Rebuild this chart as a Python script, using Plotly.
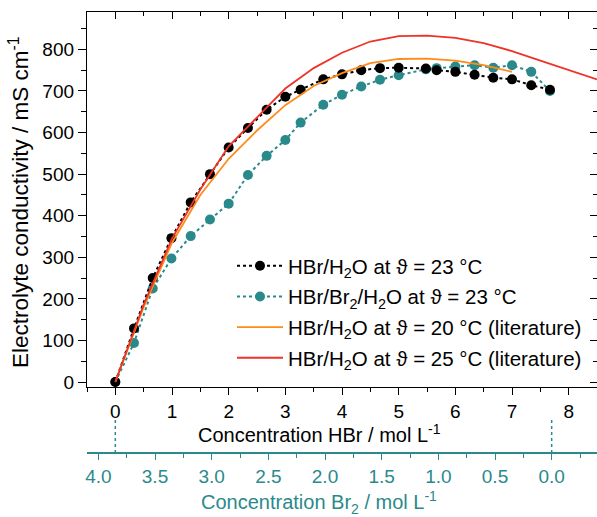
import plotly.graph_objects as go

# ---------------- data ----------------
hbr_conc = [0, 0.33, 0.66, 0.99, 1.33, 1.67, 2.0, 2.34, 2.67, 3.0, 3.27, 3.67, 4.0,
            4.34, 4.67, 5.0, 5.48, 5.67, 6.0, 6.34, 6.67, 7.0, 7.34, 7.67]
cond_hbr_23 = [0, 129, 250, 346, 432, 500, 564, 611, 655, 686, 703, 728, 740,
               750, 755, 756, 754, 750, 746, 739, 732, 728, 714, 703]
cond_hbr_br2_23 = [0, 94, 225, 297, 351, 391, 429, 498, 544, 582, 624, 667, 691,
                   711, 727, 738, 752, 755, 759, 762, 756, 762, 746, 700]

lit_conc_20 = [0, 0.5, 1.0, 1.5, 2.0, 2.5, 3.0, 3.5, 4.0, 4.5, 5.0, 5.5, 6.0, 6.5, 7.0]
lit_cond_20 = [0, 180, 335, 450, 537, 605, 666, 712, 743, 767, 777, 778, 773, 762, 746]

lit_conc_25 = [0, 0.5, 1.0, 1.5, 2.0, 2.5, 3.0, 3.5, 4.0, 4.5, 5.0, 5.5, 6.0, 6.5,
               7.0, 7.5, 8.0, 8.5]
lit_cond_25 = [0, 186, 345, 463, 567, 637, 706, 755, 792, 819, 832, 833, 828, 815,
               796, 773, 750, 728]

# HBr concentration at which Br2 concentration reaches zero (Br2 = (7.7 - HBr)/2)
hbr_full = 7.7
br2_ticks = [4.0, 3.5, 3.0, 2.5, 2.0, 1.5, 1.0, 0.5, 0.0]

names = ["HBr/H<sub>2</sub>O at \u03d1 = 23 \u00b0C",
         "HBr/Br<sub>2</sub>/H<sub>2</sub>O at \u03d1 = 23 \u00b0C",
         "HBr/H<sub>2</sub>O at \u03d1 = 20 \u00b0C (literature)",
         "HBr/H<sub>2</sub>O at \u03d1 = 25 \u00b0C (literature)"]

# ---------------- style ----------------
FONT = "Liberation Sans, Arial, sans-serif"
TEAL = "#2a8a8b"
ORANGE = "#ff8c1a"
RED = "#ee3327"
X_RANGE = [-0.5, 8.5]
Y_RANGE = [-12, 890]
br2_range = [(hbr_full - X_RANGE[0]) / 2, (hbr_full - X_RANGE[1]) / 2]

W, H = 597, 517
ML, MR, MT, MB = 87, 0, 12, 10
paper_h = H - MT - MB
def py(pix):
    return (H - MB - pix) / paper_h
def px(pix):
    return (pix - ML) / (W - ML - MR)

fig = go.Figure()

fig.add_trace(go.Scatter(x=hbr_conc, y=cond_hbr_br2_23, mode="lines+markers",
                         name=names[1], legendrank=2, legendgroup="b",
                         line=dict(color=TEAL, width=2, dash="dot"),
                         marker=dict(color=TEAL, size=10), cliponaxis=False))
fig.add_trace(go.Scatter(x=hbr_conc, y=cond_hbr_23, mode="lines+markers",
                         name=names[0], legendrank=1, legendgroup="a",
                         line=dict(color="black", width=2, dash="dot"),
                         marker=dict(color="black", size=10), cliponaxis=False))
fig.add_trace(go.Scatter(x=lit_conc_20, y=lit_cond_20, mode="lines",
                         name=names[2], legendrank=3, legendgroup="c",
                         line=dict(color=ORANGE, width=1.8)))
fig.add_trace(go.Scatter(x=lit_conc_25, y=lit_cond_25, mode="lines",
                         name=names[3], legendrank=4, legendgroup="d",
                         line=dict(color=RED, width=1.8)))

# dummy traces so the extra axes are drawn
fig.add_trace(go.Scatter(x=[br2_ticks[0]], y=[0], xaxis="x2", yaxis="y",
                         mode="markers", marker=dict(opacity=0), showlegend=False,
                         hoverinfo="skip"))
fig.add_trace(go.Scatter(x=[0], y=[0], xaxis="x3", yaxis="y3",
                         mode="markers", marker=dict(opacity=0), showlegend=False,
                         hoverinfo="skip"))

ydom = [py(387), 1]
TICK_SIZE = 19
tickfont = dict(family=FONT, size=TICK_SIZE, color="black")

fig.update_layout(
    width=W, height=H,
    margin=dict(l=ML, r=MR, t=MT, b=MB),
    paper_bgcolor="white", plot_bgcolor="white",
    font=dict(family=FONT, size=TICK_SIZE, color="black"),
    showlegend=True,
    legend=dict(x=px(232), y=py(246), xanchor="left", yanchor="top",
                bgcolor="rgba(0,0,0,0)", font=dict(family=FONT, size=20.5),
                tracegroupgap=1, itemwidth=46),
    xaxis=dict(domain=[0, 1], range=X_RANGE, anchor="y", dtick=1, tick0=0,
               ticks="outside", ticklen=7, tickwidth=1.3, tickcolor="black",
               minor=dict(ticks="outside", ticklen=4, dtick=0.5, tickcolor="black",
                          tickwidth=1.3, showgrid=False),
               showline=True, linecolor="black", linewidth=1.3,
               showgrid=False, zeroline=False, tickfont=tickfont),
    yaxis=dict(domain=ydom, range=Y_RANGE, anchor="x", dtick=100, tick0=0,
               ticks="outside", ticklen=8, tickwidth=1.3, tickcolor="black",
               minor=dict(ticks="outside", ticklen=5, dtick=50, tickcolor="black",
                          tickwidth=1.3, showgrid=False),
               showline=True, linecolor="black", linewidth=1.3,
               showgrid=False, zeroline=False, tickfont=tickfont),
    xaxis2=dict(domain=[0, 1], range=br2_range, overlaying="x", anchor="free",
                position=py(453), side="bottom",
                tickvals=br2_ticks, tickformat=".1f",
                ticks="outside", ticklen=6, tickwidth=1.3, tickcolor=TEAL,
                minor=dict(ticks="outside", ticklen=4, dtick=0.25, tickcolor=TEAL,
                           tickwidth=1.3, showgrid=False),
                showline=True, linecolor=TEAL, linewidth=1.5,
                showgrid=False, zeroline=False,
                tickfont=dict(family=FONT, size=TICK_SIZE, color=TEAL)),
    xaxis3=dict(domain=[0, 1], range=X_RANGE, overlaying="x", anchor="y3",
                side="top", dtick=1, tick0=0, ticks="inside", ticklen=7,
                tickwidth=1.3, tickcolor="black",
                minor=dict(ticks="inside", ticklen=4, dtick=0.5, tickcolor="black",
                           tickwidth=1.3, showgrid=False),
                showline=True, linecolor="black", linewidth=1.3,
                showticklabels=False, showgrid=False, zeroline=False),
    yaxis3=dict(domain=ydom, range=Y_RANGE, overlaying="y", anchor="x3",
                side="right", dtick=100, tick0=0, ticks="inside", ticklen=7,
                tickwidth=1.3, tickcolor="black",
                minor=dict(ticks="inside", ticklen=4, dtick=50, tickcolor="black",
                           tickwidth=1.3, showgrid=False),
                showline=True, linecolor="black", linewidth=1.3,
                showticklabels=False, showgrid=False, zeroline=False),
)

# axis titles
fig.add_annotation(text="Concentration HBr / mol L<sup>-1</sup>", xref="paper", yref="paper",
                   x=px(319), y=py(434), xanchor="center", yanchor="middle",
                   showarrow=False, font=dict(family=FONT, size=20, color="black"))
fig.add_annotation(text="Concentration Br<sub>2</sub> / mol L<sup>-1</sup>", xref="paper",
                   yref="paper", x=px(319), y=py(502), xanchor="center", yanchor="middle",
                   showarrow=False, font=dict(family=FONT, size=20, color=TEAL))
fig.add_annotation(text="Electrolyte conductivity / mS cm<sup>-1</sup>", xref="paper",
                   yref="paper", x=px(19), y=py(202), xanchor="center", yanchor="middle",
                   textangle=-90, showarrow=False,
                   font=dict(family=FONT, size=22.5, color="black"))

# dotted guide lines linking the two concentration scales
for xv in [0, hbr_full]:
    fig.add_shape(type="line", xref="x", yref="paper", x0=xv, x1=xv,
                  y0=py(453), y1=py(418), line=dict(color=TEAL, width=1.5, dash="dot"))

fig.write_html("out.html", config={"displayModeBar": False},
               post_script="document.body.style.margin='0';")
